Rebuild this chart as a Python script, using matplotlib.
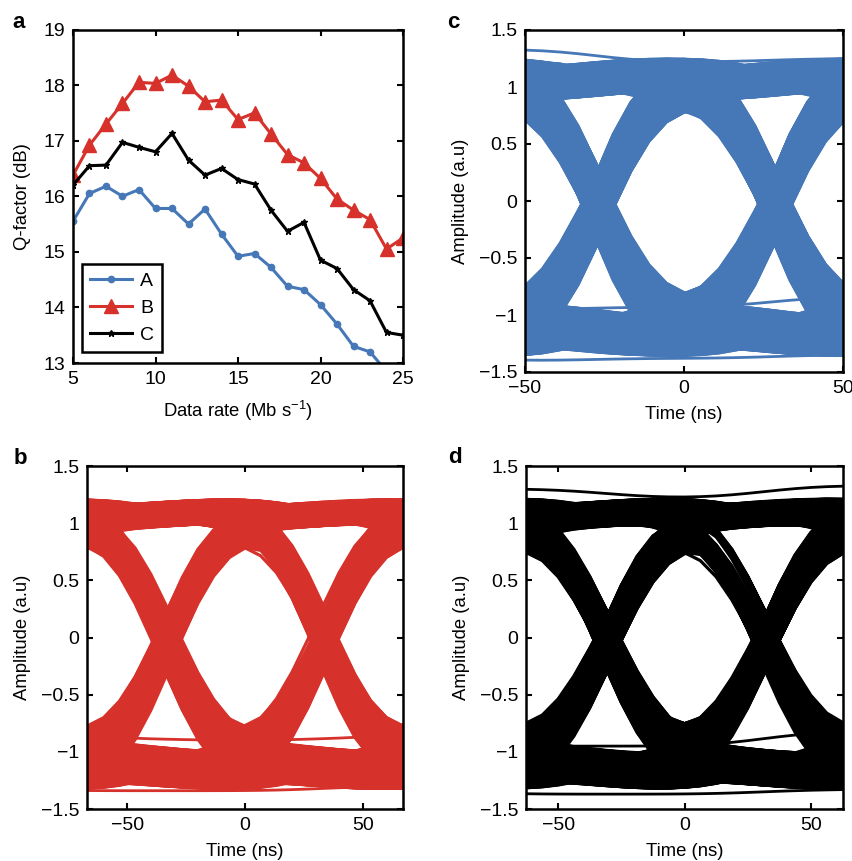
import math
import numpy as np
import matplotlib
matplotlib.use("Agg")
import matplotlib.pyplot as plt

plt.rcParams['font.family'] = ['Liberation Sans', 'DejaVu Sans']
plt.rcParams['mathtext.fontset'] = 'custom'
plt.rcParams['mathtext.rm'] = 'Liberation Sans'
plt.rcParams['mathtext.it'] = 'Liberation Sans:italic'

# ---------------- Panel a data ----------------
rate = [5, 6, 7, 8, 9, 10, 11, 12, 13, 14, 15, 16, 17, 18, 19, 20, 21, 22, 23, 24, 25]
q_A = [15.55, 16.05, 16.18, 16.0, 16.12, 15.78, 15.78, 15.5, 15.77, 15.32, 14.92,
       14.97, 14.72, 14.38, 14.32, 14.05, 13.7, 13.3, 13.2, 12.85, 12.5]
q_B = [16.38, 16.92, 17.3, 17.67, 18.05, 18.03, 18.18, 17.98, 17.7, 17.73, 17.38,
       17.5, 17.12, 16.75, 16.6, 16.32, 15.95, 15.75, 15.58, 15.05, 15.25]
q_C = [16.2, 16.55, 16.56, 16.97, 16.88, 16.8, 17.13, 16.65, 16.38, 16.5, 16.3,
       16.22, 15.75, 15.37, 15.53, 14.85, 14.7, 14.32, 14.12, 13.55, 13.5]

# ---------------- Eye diagram data ----------------
# bit period (ns), pulse spread (fraction of period), level bands, timing jitter (ns)
b_period, b_spread = 66.7, 0.28
b_high = [0.95, 0.97, 0.99, 1.01, 1.03, 1.05, 1.07, 1.09, 1.11, 1.13, 1.15, 1.17, 1.19, 1.21]
b_low = [-0.93, -0.96, -0.99, -1.02, -1.05, -1.08, -1.11, -1.14, -1.17, -1.20,
         -1.23, -1.26, -1.29, -1.31, -1.33]
b_jitter = [-3.2, -2.4, -1.6, -0.8, 0.0, 0.8, 1.6, 2.4, 3.2]
b_outliers = [[-1.3, -1.34, -1.34, -1.3, -1.34], [1.0, -0.88, -0.9, -0.87, 1.0]]

c_period, c_spread = 55.6, 0.25
c_high = [0.89, 0.92, 0.95, 0.98, 1.01, 1.04, 1.07, 1.10, 1.13, 1.16, 1.19, 1.22, 1.25]
c_low = [-0.91, -0.95, -0.99, -1.03, -1.07, -1.11, -1.15, -1.19, -1.23, -1.27,
         -1.30, -1.33, -1.36]
c_jitter = [-3.2, -2.4, -1.6, -0.8, 0.0, 0.8, 1.6, 2.4, 3.2]
c_outliers = [[1.3, 1.33, 1.22, 1.25, 1.2], [-1.0, -1.4, -1.38, -1.35, -1.3],
              [-1.0, -0.95, -0.93, -0.84, -0.9]]

d_period, d_spread = 62.5, 0.3
d_high = [0.95, 0.97, 0.99, 1.01, 1.03, 1.05, 1.07, 1.09, 1.11, 1.13, 1.15, 1.17, 1.20, 1.22]
d_low = [-0.95, -0.98, -1.01, -1.04, -1.07, -1.10, -1.13, -1.16, -1.19, -1.22,
         -1.25, -1.28, -1.31, -1.33]
d_jitter = [-3.2, -2.4, -1.6, -0.8, 0.0, 0.8, 1.6, 2.4, 3.2]
d_outliers = [[1.3, 1.3, 1.22, 1.33, 1.3], [-1.3, -1.37, -1.37, -1.33, -1.3],
              [-1.0, -0.95, -0.95, -0.82, -0.9]]

BLUE = '#4677b6'
RED = '#d6312a'
BLACK = '#000000'
FS = 14
LFS = 13.3


def erf(x):
    # Abramowitz & Stegun 7.1.26
    s = np.sign(x)
    a = np.abs(x)
    tt = 1.0 / (1.0 + 0.3275911 * a)
    y = 1.0 - (((((1.061405429 * tt - 1.453152027) * tt) + 1.421413741) * tt
                - 0.284496736) * tt + 0.254829592) * tt * np.exp(-a * a)
    return s * y


def pulse(t, T, s):
    sig = s * T * math.sqrt(2.0)
    return 0.5 * (erf((t + T / 2) / sig) - erf((t - T / 2) / sig))


def trace(t, levels, T, s, jit):
    y = np.zeros_like(t)
    for k, lv in zip(range(-2, 3), levels):
        y += lv * pulse(t - k * T - jit, T, s)
    return y


def eye(ax, T, s, highs, lows, jitters, outliers, color, xmax):
    t = np.linspace(-1.2 * T, 1.2 * T, 25)
    nvar = 28
    for pat in range(32):
        bits = [(pat >> i) & 1 for i in range(5)]
        for j in range(nvar):
            levels = []
            for k, bt in enumerate(bits):
                lst = highs if bt else lows
                levels.append(lst[(j * 11 + k * 3 + pat * 5) % len(lst)])
            jit = jitters[(j * 4 + pat * 2) % len(jitters)]
            ax.plot(t, trace(t, levels, T, s, jit), color=color, lw=2.3,
                    solid_joinstyle='round')
    for lv in outliers:
        ax.plot(t, trace(t, lv, T, s, 0.0), color=color, lw=2.0)
    ax.set_xlim(-xmax, xmax)
    ax.set_ylim(-1.5, 1.5)
    ax.set_yticks([-1.5, -1, -0.5, 0, 0.5, 1, 1.5])
    ax.set_yticklabels(['\u22121.5', '\u22121', '\u22120.5', '0', '0.5', '1', '1.5'])
    ax.set_ylabel('Amplitude (a.u)', labelpad=7)
    ax.set_xlabel('Time (ns)', labelpad=6.5)
    ax.set_xticks([-50, 0, 50])
    ax.set_xticklabels(['\u221250', '0', '50'])


def style(ax):
    for sp in ax.spines.values():
        sp.set_linewidth(1.8)
        sp.set_zorder(5)
    ax.tick_params(direction='in', top=True, right=True, length=4, width=1.5,
                   labelsize=FS, pad=5.5)
    ax.xaxis.label.set_size(LFS)
    ax.yaxis.label.set_size(LFS)


fig = plt.figure(figsize=(8.53, 8.61), dpi=100)
W, H = 853.0, 861.0


def add_ax(l, t, r, b):
    return fig.add_axes([l / W, 1 - b / H, (r - l) / W, (b - t) / H])


ax_a = add_ax(73, 29.5, 403, 363)
ax_b = add_ax(87, 466, 403, 809)
ax_c = add_ax(525, 30, 843, 372)
ax_d = add_ax(526, 466, 843, 809)

# Panel a
ax_a.plot(rate, q_A, color=BLUE, lw=2.2, marker='o', ms=4.5, label='A')
ax_a.plot(rate, q_B, color=RED, lw=2.2, marker='^', ms=10, label='B')
ax_a.plot(rate, q_C, color=BLACK, lw=2.2, marker='*', ms=5, label='C')
ax_a.set_xlim(5, 25)
ax_a.set_ylim(13, 19)
ax_a.set_xticks([5, 10, 15, 20, 25])
ax_a.set_yticks([13, 14, 15, 16, 17, 18, 19])
style(ax_a)
ax_a.set_xlabel('Data rate (Mb s$^{\u22121}$)', labelpad=8)
ax_a.set_ylabel('Q-factor (dB)', labelpad=9)
leg = ax_a.legend(loc='lower left', bbox_to_anchor=(0.027, 0.033), fontsize=FS,
                  fancybox=False, framealpha=1, edgecolor='black',
                  handlelength=2.2, borderpad=0.4, labelspacing=0.5,
                  handletextpad=0.4, borderaxespad=0.0)
leg.get_frame().set_linewidth(1.8)

eye(ax_b, b_period, b_spread, b_high, b_low, b_jitter, b_outliers, RED, 67.1)
style(ax_b)

eye(ax_c, c_period, c_spread, c_high, c_low, c_jitter, c_outliers, BLUE, 50)
style(ax_c)

eye(ax_d, d_period, d_spread, d_high, d_low, d_jitter, d_outliers, BLACK, 62.7)
style(ax_d)

for lab, x, y in [('a', 19, 22), ('b', 20, 459), ('c', 453, 22), ('d', 455, 458)]:
    fig.text(x / W, 1 - y / H, lab, fontsize=16, fontweight='bold',
             ha='center', va='center')

fig.savefig('out.png', dpi=100)
